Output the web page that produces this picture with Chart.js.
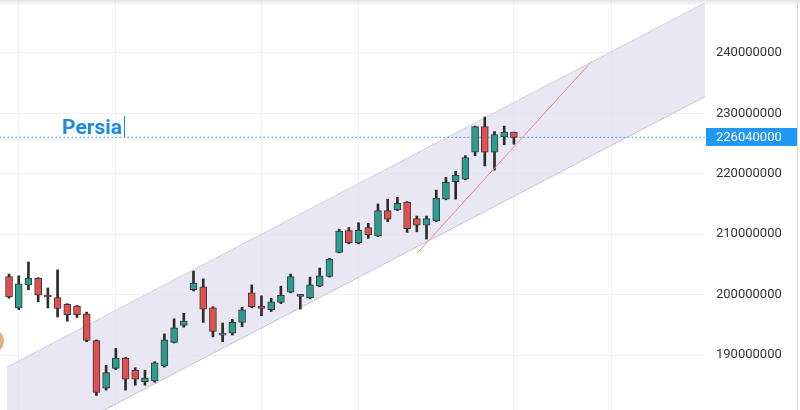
<!DOCTYPE html>
<html>
<head>
<meta charset="utf-8">
<script src="https://cdn.jsdelivr.net/npm/chart.js@4/dist/chart.umd.min.js"></script>
<style>
  html, body { margin:0; padding:0; background:#fff; }
  #wrap { position:relative; width:800px; height:410px; }
  #shade { position:absolute; left:0; top:0; width:800px; height:6px;
           background:linear-gradient(#e4e4e4, rgba(255,255,255,0)); pointer-events:none; }
</style>
</head>
<body>
<div id="wrap">
  <canvas id="chart" width="800" height="410"></canvas>
  <div id="shade"></div>
</div>
<script>
// Valores em milhões (convertidos abaixo)
const M = 1e6;
const opens  = [203.0,197.8,201.6,202.7,199.65,199.5,198.4,198.1,196.8,192.4,184.5,187.8,189.5,187.5,185.6,185.7,188.2,192.1,194.9,200.8,
                201.3,197.8,193.3,193.6,195.4,200.3,198.1,197.5,198.7,200.4,199.7,199.5,201.4,203.0,207.0,210.6,208.6,211.1,209.7,213.9,
                214.0,215.3,212.6,211.5,212.2,215.8,218.7,219.1,223.6,227.8,223.6,226.1,226.9];
const highs  = [203.4,203.1,205.4,202.8,201.1,204.1,198.5,198.2,197.1,192.5,188.3,191.1,189.6,187.9,187.5,188.9,193.5,196.0,196.9,203.9,
                202.6,198.0,195.3,195.9,197.9,201.6,199.8,199.4,201.4,203.4,200.0,202.9,204.4,206.0,210.8,211.1,211.9,211.8,215.0,215.8,
                216.1,215.4,213.0,213.0,217.3,219.4,220.4,223.0,227.9,229.4,227.0,227.9,226.9];
const lows   = [199.4,197.5,200.8,198.8,197.8,196.3,195.6,196.2,192.2,183.3,184.2,187.6,184.2,185.0,185.0,185.5,188.0,192.0,194.6,200.6,
                195.4,193.0,192.2,193.3,194.7,197.8,196.5,197.2,198.5,200.3,197.6,199.3,201.3,202.9,206.9,208.4,208.4,209.3,209.6,212.1,
                213.9,210.3,210.4,209.2,212.1,215.7,215.8,219.0,223.0,221.3,220.6,224.8,224.9];
const closes = [199.6,201.8,202.7,199.9,199.6,197.7,196.7,196.7,192.4,183.8,187.1,189.5,186.0,186.0,186.2,188.7,192.5,194.5,195.6,201.9,
                197.6,193.9,193.6,195.4,197.5,198.0,197.7,198.8,199.9,203.0,199.9,201.6,203.1,205.9,210.5,208.6,210.7,209.9,213.9,212.5,
                215.1,210.9,211.5,212.6,216.0,218.6,219.8,222.7,227.8,223.6,226.5,226.9,226.04];

// Canal (início/fim) e linha de tendência
const channelX     = [-0.2, 71.7];
const channelUpper = [188.0, 248.3];
const channelLower = [172.5, 232.8];
const trendX       = [42, 60];
const trendY       = [206.8, 238.6];

const lastPrice = 226040000;
const yTicks = [190000000, 200000000, 210000000, 220000000, 230000000, 240000000];
const xGridAt = [1, 11, 26, 36, 52, 62];
const label = "Persia";

const UP = "#2a9d8e", DOWN = "#e0504f";
const candleColors = opens.map((o,i) => closes[i] >= o ? UP : DOWN);

const wickData = highs.map((h,i) => ({ x:i, y:[lows[i]*M, h*M] }));
const bodyData = opens.map((o,i) => ({ x:i, y:[o*M, closes[i]*M] }));

const overlay = {
  id: "overlay",
  afterDraw(chart){
    const ctx = chart.ctx, area = chart.chartArea, y = chart.scales.y;
    const py = Math.round(y.getPixelForValue(lastPrice));
    ctx.save();
    // etiqueta do preço
    ctx.fillStyle = "#2196f3";
    ctx.fillRect(area.right + 1, py - 9, 797 - area.right - 1, 18);
    ctx.fillStyle = "#ffffff";
    ctx.font = "13px Roboto";
    ctx.textBaseline = "middle";
    ctx.fillText(String(lastPrice), area.right + 11, py + 1);
    // texto Persia
    ctx.fillStyle = "#1e88e5";
    ctx.font = "bold 21px Roboto";
    ctx.textBaseline = "alphabetic";
    ctx.fillText(label, 62, 134);
    ctx.fillRect(124, 116, 1, 21);
    // borda direita
    ctx.fillStyle = "#d6d6d6";
    ctx.fillRect(797, 0, 1, 410);
    // mancha laranja na borda
    ctx.beginPath();
    ctx.arc(-8, 341, 12, 0, Math.PI*2);
    ctx.fillStyle = "rgba(214,150,90,0.75)";
    ctx.fill();
    ctx.restore();
  }
};

new Chart(document.getElementById("chart").getContext("2d"), {
  type: "bar",
  data: {
    datasets: [
      { type:"bar", data: bodyData, backgroundColor: candleColors, borderColor:"#3a3a3a", borderWidth:1,
        borderSkipped:false, barThickness:7, minBarLength:2, grouped:false, order:1 },
      { type:"bar", data: wickData, backgroundColor:"#2b2b2b", borderWidth:0,
        barThickness:2, grouped:false, order:2 },
      { type:"line", data: trendX.map((x,i)=>({x, y:trendY[i]*M})), borderColor:"#ef8a8a",
        backgroundColor:"#ef8a8a", borderWidth:1, pointRadius:0, order:0 },
      { type:"line", data: [{x:-1, y:lastPrice},{x:80, y:lastPrice}], borderColor:"#4da6f0",
        backgroundColor:"#4da6f0", borderWidth:1, borderDash:[2,2], pointRadius:0, order:3 },
      { type:"line", data: channelX.map((x,i)=>({x, y:channelUpper[i]*M})), borderColor:"#c8c3d8",
        borderWidth:1, pointRadius:0, order:5 },
      { type:"line", data: channelX.map((x,i)=>({x, y:channelLower[i]*M})), borderColor:"#c8c3d8",
        borderWidth:1, pointRadius:0, fill:"-1", backgroundColor:"rgba(226,222,240,0.72)", order:4 }
    ]
  },
  options: {
    responsive:false,
    animation:false,
    layout:{ padding:0 },
    plugins:{ legend:{display:false}, tooltip:{enabled:false} },
    scales:{
      x:{
        type:"linear", min:-0.93, max:71.68, offset:false,
        grid:{ color:"#eef0f2", drawTicks:false, offset:false },
        border:{ display:false },
        ticks:{ display:false },
        afterBuildTicks: s => { s.ticks = xGridAt.map(v => ({value:v})); },
        afterFit: s => { s.height = 0; s.paddingLeft = 0; s.paddingRight = 0; s.paddingTop = 0; s.paddingBottom = 0; }
      },
      y:{
        position:"right", min:180900000, max:248770000,
        grid:{ color:"#eef0f2", drawTicks:false },
        border:{ display:false },
        ticks:{ color:"#333", font:{ family:"Roboto", size:13 }, padding:11,
                callback: v => String(v) },
        afterBuildTicks: s => { s.ticks = yTicks.map(v => ({value:v})); },
        afterFit: s => { s.width = 95; s.paddingTop = 0; s.paddingBottom = 0; }
      }
    }
  },
  plugins:[overlay]
});
</script>
</body>
</html>
